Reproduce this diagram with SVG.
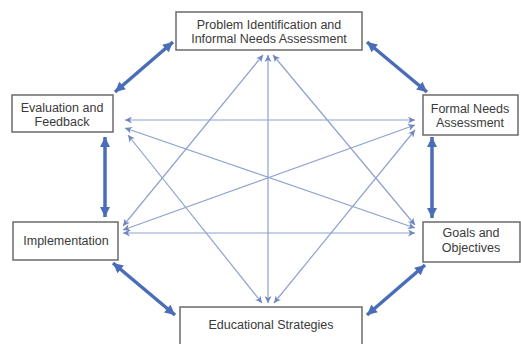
<svg xmlns="http://www.w3.org/2000/svg" width="521" height="344" viewBox="0 0 521 344">
<style>
.box{fill:#fff;stroke:#6b6b6b;stroke-width:1.5}
.t{font-family:"Liberation Sans",Arial,sans-serif;font-size:12.5px;fill:#3a3a3a;text-anchor:middle}
.thin{stroke:#8ea2cf;stroke-width:1.2;fill:none;marker-start:url(#hs);marker-end:url(#he)}
.thick{stroke:#4a6db8;stroke-width:3.5;fill:none;marker-start:url(#Hs);marker-end:url(#He)}
</style>
<defs>
<marker id="he" viewBox="0 0 10 10" refX="10" refY="5" markerWidth="8" markerHeight="7" markerUnits="userSpaceOnUse" orient="auto"><path d="M0,0 L10,5 L0,10 L3,5 Z" fill="#6f86bf"/></marker>
<marker id="hs" viewBox="0 0 10 10" refX="0" refY="5" markerWidth="8" markerHeight="7" markerUnits="userSpaceOnUse" orient="auto"><path d="M10,0 L0,5 L10,10 L7,5 Z" fill="#6f86bf"/></marker>
<marker id="He" viewBox="0 0 10 10" refX="10" refY="5" markerWidth="12" markerHeight="10" markerUnits="userSpaceOnUse" orient="auto"><path d="M0,0 L10,5 L0,10 Z" fill="#4a6db8"/></marker>
<marker id="Hs" viewBox="0 0 10 10" refX="0" refY="5" markerWidth="12" markerHeight="10" markerUnits="userSpaceOnUse" orient="auto"><path d="M10,0 L0,5 L10,10 Z" fill="#4a6db8"/></marker>
</defs>
<rect width="521" height="344" fill="#fff"/>
<g id="connectors">
<line class="thin" x1="125" y1="120" x2="415" y2="120"/>
<line class="thin" x1="125" y1="128" x2="415" y2="228"/>
<line class="thin" x1="128" y1="135" x2="262" y2="303"/>
<line class="thin" x1="123" y1="230" x2="415" y2="125"/>
<line class="thin" x1="123" y1="233" x2="415" y2="233"/>
<line class="thin" x1="123" y1="226" x2="263" y2="55"/>
<line class="thin" x1="268" y1="55" x2="268" y2="303"/>
<line class="thin" x1="273" y1="55" x2="415" y2="225"/>
<line class="thin" x1="415" y1="130" x2="274" y2="303"/>
<line class="thick" x1="115" y1="92" x2="173" y2="42"/>
<line class="thick" x1="367" y1="42" x2="427" y2="92"/>
<line class="thick" x1="113" y1="263" x2="175" y2="315"/>
<line class="thick" x1="367" y1="315" x2="425" y2="265"/>
<line class="thick" x1="105" y1="137" x2="105" y2="217"/>
<line class="thick" x1="432" y1="137" x2="432" y2="218"/>
</g>
<g id="problem"><rect class="box" x="176" y="12" width="186" height="38"/><text class="t" x="269" y="29">Problem Identification and</text><text class="t" x="269" y="43">Informal Needs Assessment</text></g>
<g id="evaluation"><rect class="box" x="12" y="95" width="101" height="37"/><text class="t" x="62" y="112">Evaluation and</text><text class="t" x="62" y="126">Feedback</text></g>
<g id="formal"><rect class="box" x="423" y="95" width="95" height="40"/><text class="t" x="470" y="113">Formal Needs</text><text class="t" x="470" y="127">Assessment</text></g>
<g id="implementation"><rect class="box" x="13" y="222" width="105" height="38"/><text class="t" x="66" y="245">Implementation</text></g>
<g id="goals"><rect class="box" x="423" y="222" width="97" height="40"/><text class="t" x="471" y="237">Goals and</text><text class="t" x="471" y="252">Objectives</text></g>
<g id="educational"><rect class="box" x="180" y="307" width="182" height="40"/><text class="t" x="271" y="329">Educational Strategies</text></g>
</svg>
